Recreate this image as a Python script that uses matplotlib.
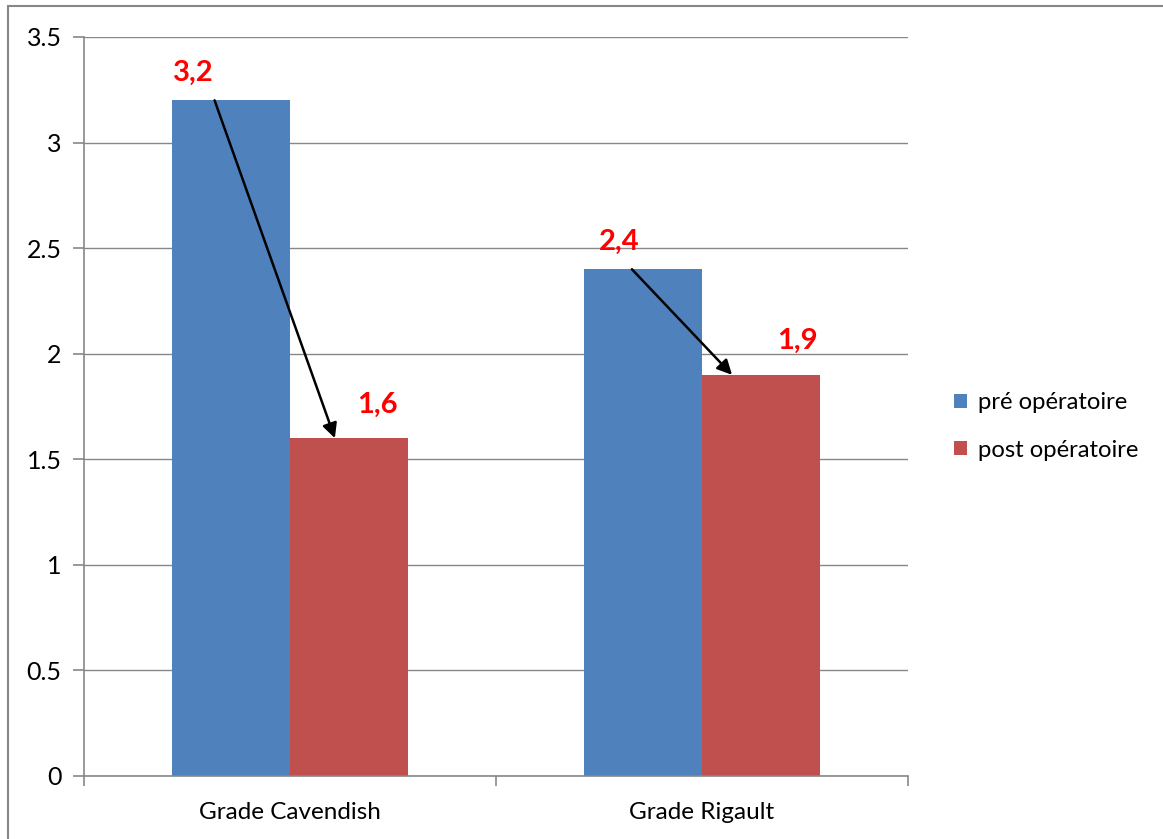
import numpy as np
import matplotlib.pyplot as plt
from matplotlib.patches import Rectangle

# data
categories = ['Grade Cavendish', 'Grade Rigault']
pre_op = [3.2, 2.4]
post_op = [1.6, 1.9]
pre_labels = ['3,2', '2,4']
post_labels = ['1,6', '1,9']
series_names = ['pré opératoire', 'post opératoire']

blue = '#4F81BD'
red = '#C0504D'
grid_col = '#878787'

plt.rcParams['font.family'] = ['Lato', 'DejaVu Sans']

fig = plt.figure(figsize=(11.63, 8.39), dpi=100)
ax = fig.add_axes([0.0722, 0.0751, 0.7085, 0.8808])

x = np.arange(len(categories))
w = 0.286
ax.bar(x - w / 2, pre_op, w, color=blue, label=series_names[0], zorder=2)
ax.bar(x + w / 2, post_op, w, color=red, label=series_names[1], zorder=2)

ax.set_xlim(-0.5, 1.5)
ax.set_ylim(0, 3.5)
ax.set_yticks(np.arange(0, 3.51, 0.5))
ax.set_yticklabels(['0', '0.5', '1', '1.5', '2', '2.5', '3', '3.5'])
ax.yaxis.grid(True, color=grid_col, linewidth=1, zorder=0)
ax.set_axisbelow(True)

# category boundaries as ticks, labels centred on the categories
ax.set_xticks([-0.5, 0.5, 1.5])
ax.set_xticklabels([])
ax.set_xticks(x, minor=True)
ax.set_xticklabels(categories, minor=True)
ax.tick_params(axis='x', which='minor', length=0, pad=19, labelsize=17.5)
ax.tick_params(axis='x', which='major', length=7, color=grid_col, width=1.2)
ax.tick_params(axis='y', length=8, color=grid_col, width=1.2, labelsize=18, pad=8)

for s in ['top', 'right']:
    ax.spines[s].set_visible(False)
for s in ['left', 'bottom']:
    ax.spines[s].set_color(grid_col)
    ax.spines[s].set_linewidth(1.2)

# value labels
lab_dx_pre = [-0.092, -0.058]
lab_dx_post = [0.07, 0.088]
for i in range(len(categories)):
    ax.text(x[i] - w / 2 + lab_dx_pre[i], pre_op[i] + 0.13, pre_labels[i],
            color='red', fontsize=21, fontweight='bold', ha='center', va='center')
    ax.text(x[i] + w / 2 + lab_dx_post[i], post_op[i] + 0.16, post_labels[i],
            color='red', fontsize=21, fontweight='bold', ha='center', va='center')

# arrows from pre to post
start_dx = [-0.04, -0.027]
end_dx = [-0.034, -0.07]
for i in range(len(categories)):
    ax.annotate('', xy=(x[i] + w / 2 + end_dx[i], post_op[i]),
                xytext=(x[i] - w / 2 + start_dx[i], pre_op[i]),
                arrowprops=dict(arrowstyle='-|>', color='black', lw=1.8,
                                mutation_scale=22, shrinkA=0, shrinkB=0),
                zorder=5)

ax.legend(loc='center left', bbox_to_anchor=(1.03, 0.473), frameon=False,
          fontsize=17.2, handlelength=0.55, handleheight=0.55, handletextpad=0.45,
          labelspacing=1.1)

# outer chart frame
fig.patches.append(Rectangle((0.007, -0.01), 1.1, 1.003, transform=fig.transFigure,
                             fill=False, edgecolor=grid_col, linewidth=1.5))

fig.savefig('out.png', dpi=100)
